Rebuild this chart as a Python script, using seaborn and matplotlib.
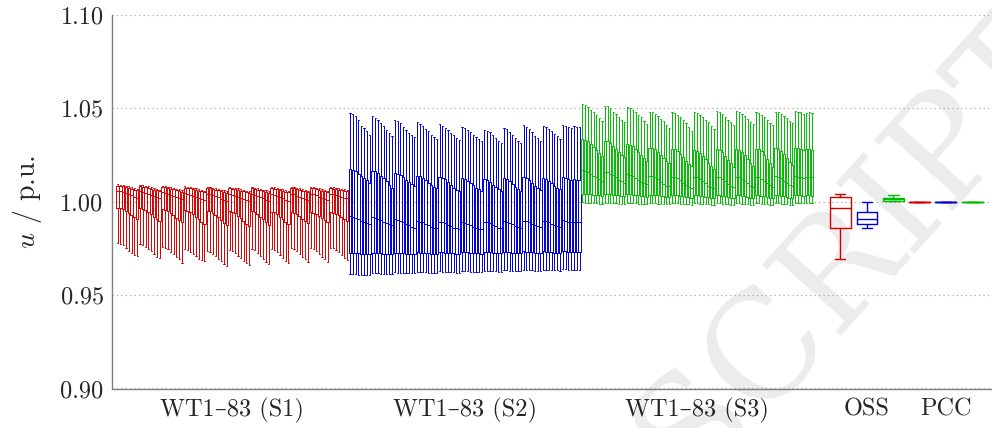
import matplotlib
matplotlib.use("Agg")
import matplotlib.pyplot as plt
import seaborn as sns
import numpy as np
import pandas as pd

# ---- data (p.u.) ----
cases = ["S1", "S2", "S3"]
colors = {"S1": "#d40000", "S2": "#0000d4", "S3": "#00bb00"}

# WT1-83, scenario S1
s1_hi = [1.0094, 1.0092, 1.0089, 1.0086, 1.0082, 1.0078, 1.0073, 1.0069,
         1.0090, 1.0088, 1.0085, 1.0082, 1.0078, 1.0073, 1.0069, 1.0065,
         1.0086, 1.0084, 1.0081, 1.0078, 1.0074, 1.0070, 1.0066, 1.0062,
         1.0083, 1.0081, 1.0078, 1.0075, 1.0071, 1.0067, 1.0063, 1.0059,
         1.0080, 1.0078, 1.0076, 1.0073, 1.0069, 1.0065, 1.0061, 1.0057,
         1.0078, 1.0076, 1.0074, 1.0071, 1.0067, 1.0063, 1.0059, 1.0055,
         1.0078, 1.0076, 1.0073, 1.0069, 1.0065, 1.0061, 1.0057,
         1.0079, 1.0077, 1.0074, 1.0070, 1.0066, 1.0062, 1.0058,
         1.0080, 1.0078, 1.0075, 1.0071, 1.0067, 1.0063, 1.0059,
         1.0080, 1.0078, 1.0075, 1.0072, 1.0068, 1.0064, 1.0060,
         1.0079, 1.0077, 1.0075, 1.0072, 1.0069, 1.0066, 1.0063]
s1_q3 = [1.0087, 1.0085, 1.0082, 1.0078, 1.0074, 1.0070, 1.0065, 1.0061,
         1.0083, 1.0081, 1.0078, 1.0074, 1.0070, 1.0065, 1.0061, 1.0057,
         1.0079, 1.0077, 1.0074, 1.0070, 1.0066, 1.0062, 1.0058, 1.0054,
         1.0076, 1.0074, 1.0071, 1.0067, 1.0063, 1.0059, 1.0055, 1.0051,
         1.0073, 1.0071, 1.0068, 1.0065, 1.0061, 1.0057, 1.0053, 1.0049,
         1.0071, 1.0069, 1.0066, 1.0063, 1.0059, 1.0055, 1.0051, 1.0047,
         1.0071, 1.0069, 1.0065, 1.0061, 1.0057, 1.0053, 1.0049,
         1.0072, 1.0070, 1.0066, 1.0062, 1.0058, 1.0054, 1.0050,
         1.0073, 1.0071, 1.0067, 1.0063, 1.0059, 1.0055, 1.0051,
         1.0073, 1.0071, 1.0068, 1.0064, 1.0060, 1.0056, 1.0052,
         1.0072, 1.0070, 1.0068, 1.0065, 1.0062, 1.0059, 1.0056]
s1_med = [1.0060, 1.0056, 1.0051, 1.0046, 1.0040, 1.0034, 1.0028, 1.0022,
          1.0055, 1.0051, 1.0046, 1.0041, 1.0035, 1.0029, 1.0023, 1.0018,
          1.0050, 1.0047, 1.0042, 1.0036, 1.0030, 1.0024, 1.0018, 1.0013,
          1.0046, 1.0043, 1.0038, 1.0032, 1.0026, 1.0020, 1.0014, 1.0009,
          1.0043, 1.0040, 1.0035, 1.0029, 1.0023, 1.0017, 1.0011, 1.0006,
          1.0041, 1.0038, 1.0033, 1.0027, 1.0021, 1.0014, 1.0008, 1.0003,
          1.0040, 1.0037, 1.0031, 1.0025, 1.0018, 1.0011, 1.0005,
          1.0041, 1.0038, 1.0032, 1.0026, 1.0019, 1.0012, 1.0006,
          1.0042, 1.0039, 1.0033, 1.0027, 1.0020, 1.0013, 1.0007,
          1.0042, 1.0039, 1.0034, 1.0028, 1.0021, 1.0015, 1.0009,
          1.0042, 1.0040, 1.0037, 1.0032, 1.0027, 1.0022, 1.0018]
s1_q1 = [0.9969, 0.9966, 0.9960, 0.9951, 0.9940, 0.9928, 0.9916, 0.9906,
         0.9965, 0.9962, 0.9955, 0.9945, 0.9933, 0.9920, 0.9908, 0.9897,
         0.9960, 0.9957, 0.9950, 0.9940, 0.9927, 0.9913, 0.9900, 0.9890,
         0.9955, 0.9952, 0.9945, 0.9934, 0.9920, 0.9906, 0.9893, 0.9882,
         0.9952, 0.9949, 0.9941, 0.9930, 0.9916, 0.9901, 0.9888, 0.9875,
         0.9950, 0.9946, 0.9938, 0.9926, 0.9911, 0.9896, 0.9882, 0.9870,
         0.9948, 0.9944, 0.9935, 0.9921, 0.9906, 0.9891, 0.9878,
         0.9947, 0.9943, 0.9934, 0.9921, 0.9907, 0.9893, 0.9881,
         0.9946, 0.9942, 0.9934, 0.9922, 0.9909, 0.9896, 0.9885,
         0.9945, 0.9942, 0.9934, 0.9923, 0.9911, 0.9900, 0.9890,
         0.9944, 0.9942, 0.9937, 0.9929, 0.9919, 0.9908, 0.9897]
s1_lo = [0.9781, 0.9776, 0.9767, 0.9754, 0.9736, 0.9728, 0.9715, 0.9710,
         0.9773, 0.9768, 0.9760, 0.9746, 0.9736, 0.9720, 0.9706, 0.9700,
         0.9758, 0.9752, 0.9745, 0.9730, 0.9720, 0.9705, 0.9692, 0.9674,
         0.9745, 0.9740, 0.9732, 0.9720, 0.9708, 0.9695, 0.9688, 0.9683,
         0.9736, 0.9731, 0.9722, 0.9709, 0.9695, 0.9681, 0.9668, 0.9656,
         0.9740, 0.9735, 0.9726, 0.9712, 0.9698, 0.9684, 0.9671, 0.9660,
         0.9745, 0.9739, 0.9727, 0.9711, 0.9694, 0.9678, 0.9665,
         0.9748, 0.9742, 0.9731, 0.9716, 0.9700, 0.9685, 0.9672,
         0.9752, 0.9746, 0.9735, 0.9721, 0.9706, 0.9692, 0.9680,
         0.9750, 0.9745, 0.9735, 0.9721, 0.9706, 0.9691, 0.9678,
         0.9755, 0.9750, 0.9741, 0.9729, 0.9715, 0.9701, 0.9690]

# WT1-83, scenario S2
s2_hi = [1.0475, 1.0471, 1.0457, 1.0439, 1.0408, 1.0396, 1.0378, 1.0360,
         1.0457, 1.0449, 1.0439, 1.0421, 1.0403, 1.0385, 1.0367, 1.0353,
         1.0439, 1.0432, 1.0421, 1.0400, 1.0385, 1.0370, 1.0357, 1.0345,
         1.0427, 1.0418, 1.0403, 1.0390, 1.0378, 1.0360, 1.0345, 1.0335,
         1.0415, 1.0408, 1.0396, 1.0382, 1.0368, 1.0355, 1.0340, 1.0330,
         1.0400, 1.0394, 1.0385, 1.0371, 1.0358, 1.0345, 1.0335, 1.0325,
         1.0385, 1.0380, 1.0371, 1.0358, 1.0340, 1.0326, 1.0312,
         1.0394, 1.0389, 1.0376, 1.0358, 1.0340, 1.0326, 1.0317,
         1.0410, 1.0401, 1.0389, 1.0371, 1.0353, 1.0340, 1.0325,
         1.0405, 1.0400, 1.0390, 1.0378, 1.0362, 1.0350, 1.0338,
         1.0412, 1.0408, 1.0400, 1.0395, 1.0403, 1.0400, 1.0398]
s2_q3 = [1.0174, 1.0172, 1.0165, 1.0150, 1.0140, 1.0128, 1.0115, 1.0103,
         1.0165, 1.0162, 1.0155, 1.0140, 1.0125, 1.0110, 1.0092, 1.0076,
         1.0153, 1.0150, 1.0142, 1.0130, 1.0118, 1.0105, 1.0095, 1.0085,
         1.0139, 1.0136, 1.0128, 1.0115, 1.0100, 1.0088, 1.0080, 1.0072,
         1.0131, 1.0128, 1.0120, 1.0105, 1.0090, 1.0075, 1.0065, 1.0058,
         1.0125, 1.0120, 1.0112, 1.0100, 1.0088, 1.0076, 1.0066, 1.0060,
         1.0120, 1.0115, 1.0105, 1.0092, 1.0078, 1.0066, 1.0058,
         1.0125, 1.0120, 1.0110, 1.0095, 1.0080, 1.0068, 1.0060,
         1.0130, 1.0125, 1.0115, 1.0100, 1.0085, 1.0072, 1.0062,
         1.0128, 1.0123, 1.0113, 1.0100, 1.0087, 1.0075, 1.0066,
         1.0132, 1.0128, 1.0122, 1.0115, 1.0120, 1.0118, 1.0115]
s2_med = [0.9924, 0.9920, 0.9914, 0.9905, 0.9897, 0.9890, 0.9884, 0.9879,
          0.9917, 0.9914, 0.9908, 0.9900, 0.9892, 0.9885, 0.9879, 0.9874,
          0.9906, 0.9903, 0.9897, 0.9889, 0.9880, 0.9873, 0.9867, 0.9862,
          0.9897, 0.9894, 0.9889, 0.9881, 0.9873, 0.9866, 0.9861, 0.9857,
          0.9892, 0.9889, 0.9884, 0.9876, 0.9868, 0.9862, 0.9857, 0.9853,
          0.9890, 0.9887, 0.9882, 0.9875, 0.9867, 0.9861, 0.9856, 0.9852,
          0.9893, 0.9890, 0.9884, 0.9876, 0.9868, 0.9862, 0.9857,
          0.9896, 0.9893, 0.9887, 0.9879, 0.9871, 0.9865, 0.9860,
          0.9899, 0.9896, 0.9890, 0.9882, 0.9874, 0.9868, 0.9863,
          0.9898, 0.9895, 0.9889, 0.9881, 0.9874, 0.9868, 0.9864,
          0.9900, 0.9898, 0.9894, 0.9890, 0.9892, 0.9891, 0.9890]
s2_q1 = [0.9728, 0.9727, 0.9726, 0.9724, 0.9722, 0.9721, 0.9720, 0.9719,
         0.9727, 0.9726, 0.9725, 0.9723, 0.9721, 0.9720, 0.9719, 0.9718,
         0.9727, 0.9726, 0.9725, 0.9723, 0.9722, 0.9720, 0.9719, 0.9719,
         0.9729, 0.9728, 0.9727, 0.9725, 0.9723, 0.9722, 0.9721, 0.9720,
         0.9730, 0.9729, 0.9728, 0.9726, 0.9724, 0.9723, 0.9722, 0.9721,
         0.9731, 0.9730, 0.9729, 0.9727, 0.9725, 0.9724, 0.9723, 0.9722,
         0.9732, 0.9731, 0.9729, 0.9727, 0.9725, 0.9724, 0.9723,
         0.9733, 0.9732, 0.9730, 0.9728, 0.9726, 0.9725, 0.9724,
         0.9734, 0.9733, 0.9731, 0.9729, 0.9727, 0.9726, 0.9725,
         0.9734, 0.9733, 0.9731, 0.9729, 0.9727, 0.9726, 0.9725,
         0.9735, 0.9734, 0.9733, 0.9732, 0.9733, 0.9733, 0.9733]
s2_lo = [0.9612, 0.9612, 0.9611, 0.9610, 0.9609, 0.9608, 0.9607, 0.9607,
         0.9618, 0.9617, 0.9616, 0.9615, 0.9614, 0.9613, 0.9612, 0.9612,
         0.9622, 0.9621, 0.9620, 0.9619, 0.9618, 0.9617, 0.9616, 0.9616,
         0.9625, 0.9624, 0.9623, 0.9622, 0.9621, 0.9620, 0.9619, 0.9619,
         0.9627, 0.9626, 0.9625, 0.9624, 0.9623, 0.9622, 0.9621, 0.9621,
         0.9629, 0.9628, 0.9627, 0.9626, 0.9625, 0.9624, 0.9623, 0.9623,
         0.9631, 0.9630, 0.9629, 0.9628, 0.9627, 0.9626, 0.9625,
         0.9633, 0.9632, 0.9631, 0.9630, 0.9629, 0.9628, 0.9627,
         0.9635, 0.9634, 0.9633, 0.9632, 0.9631, 0.9630, 0.9629,
         0.9637, 0.9636, 0.9635, 0.9634, 0.9633, 0.9632, 0.9631,
         0.9639, 0.9638, 0.9637, 0.9637, 0.9637, 0.9636, 0.9636]

# WT1-83, scenario S3
s3_hi = [1.0523, 1.0519, 1.0510, 1.0492, 1.0478, 1.0465, 1.0451, 1.0435,
         1.0514, 1.0512, 1.0501, 1.0483, 1.0469, 1.0455, 1.0440, 1.0425,
         1.0505, 1.0500, 1.0490, 1.0478, 1.0465, 1.0452, 1.0430, 1.0415,
         1.0480, 1.0478, 1.0470, 1.0458, 1.0445, 1.0430, 1.0410, 1.0395,
         1.0478, 1.0474, 1.0465, 1.0452, 1.0438, 1.0420, 1.0398, 1.0380,
         1.0480, 1.0475, 1.0466, 1.0453, 1.0440, 1.0425, 1.0405, 1.0390,
         1.0485, 1.0480, 1.0470, 1.0455, 1.0440, 1.0425, 1.0410,
         1.0488, 1.0482, 1.0472, 1.0458, 1.0442, 1.0428, 1.0415,
         1.0478, 1.0475, 1.0466, 1.0452, 1.0438, 1.0424, 1.0412,
         1.0480, 1.0478, 1.0470, 1.0458, 1.0446, 1.0432, 1.0420,
         1.0485, 1.0482, 1.0478, 1.0470, 1.0475, 1.0478, 1.0475]
s3_q3 = [1.0335, 1.0333, 1.0325, 1.0310, 1.0295, 1.0278, 1.0262, 1.0246,
         1.0326, 1.0324, 1.0315, 1.0300, 1.0285, 1.0268, 1.0252, 1.0237,
         1.0308, 1.0305, 1.0297, 1.0283, 1.0268, 1.0252, 1.0235, 1.0219,
         1.0290, 1.0288, 1.0280, 1.0266, 1.0250, 1.0234, 1.0218, 1.0205,
         1.0282, 1.0280, 1.0270, 1.0254, 1.0237, 1.0220, 1.0203, 1.0190,
         1.0275, 1.0272, 1.0262, 1.0245, 1.0227, 1.0208, 1.0190, 1.0178,
         1.0280, 1.0276, 1.0265, 1.0247, 1.0226, 1.0205, 1.0188,
         1.0282, 1.0278, 1.0267, 1.0249, 1.0228, 1.0207, 1.0190,
         1.0285, 1.0281, 1.0270, 1.0251, 1.0229, 1.0206, 1.0185,
         1.0288, 1.0284, 1.0273, 1.0255, 1.0234, 1.0213, 1.0195,
         1.0290, 1.0288, 1.0284, 1.0278, 1.0280, 1.0282, 1.0278]
s3_med = [1.0169, 1.0167, 1.0160, 1.0150, 1.0140, 1.0130, 1.0120, 1.0112,
          1.0160, 1.0158, 1.0151, 1.0141, 1.0130, 1.0119, 1.0109, 1.0100,
          1.0147, 1.0145, 1.0138, 1.0128, 1.0117, 1.0106, 1.0099, 1.0094,
          1.0139, 1.0137, 1.0130, 1.0120, 1.0108, 1.0096, 1.0087, 1.0082,
          1.0135, 1.0133, 1.0126, 1.0115, 1.0102, 1.0090, 1.0081, 1.0076,
          1.0132, 1.0130, 1.0122, 1.0111, 1.0098, 1.0087, 1.0079, 1.0074,
          1.0133, 1.0130, 1.0122, 1.0110, 1.0097, 1.0086, 1.0078,
          1.0134, 1.0131, 1.0123, 1.0111, 1.0098, 1.0087, 1.0080,
          1.0135, 1.0132, 1.0124, 1.0112, 1.0099, 1.0088, 1.0081,
          1.0136, 1.0133, 1.0125, 1.0113, 1.0100, 1.0090, 1.0083,
          1.0137, 1.0135, 1.0132, 1.0128, 1.0130, 1.0131, 1.0130]
s3_q1 = [1.0044, 1.0043, 1.0042, 1.0040, 1.0038, 1.0036, 1.0034, 1.0032,
         1.0042, 1.0041, 1.0040, 1.0038, 1.0036, 1.0034, 1.0032, 1.0030,
         1.0040, 1.0039, 1.0038, 1.0036, 1.0034, 1.0032, 1.0030, 1.0028,
         1.0038, 1.0037, 1.0036, 1.0034, 1.0032, 1.0029, 1.0027, 1.0025,
         1.0036, 1.0035, 1.0034, 1.0032, 1.0029, 1.0026, 1.0024, 1.0022,
         1.0035, 1.0034, 1.0033, 1.0031, 1.0028, 1.0025, 1.0022, 1.0020,
         1.0035, 1.0034, 1.0032, 1.0029, 1.0026, 1.0022, 1.0019,
         1.0035, 1.0034, 1.0032, 1.0029, 1.0026, 1.0022, 1.0019,
         1.0035, 1.0034, 1.0032, 1.0029, 1.0025, 1.0021, 1.0018,
         1.0035, 1.0034, 1.0032, 1.0029, 1.0026, 1.0022, 1.0019,
         1.0036, 1.0035, 1.0034, 1.0033, 1.0034, 1.0034, 1.0033]
s3_lo = [0.9996, 0.9995, 0.9994, 0.9993, 0.9992, 0.9991, 0.9990, 0.9989,
         0.9995, 0.9994, 0.9993, 0.9992, 0.9991, 0.9990, 0.9989, 0.9988,
         0.9994, 0.9993, 0.9992, 0.9991, 0.9990, 0.9989, 0.9988, 0.9987,
         0.9993, 0.9992, 0.9991, 0.9990, 0.9989, 0.9988, 0.9987, 0.9986,
         0.9993, 0.9992, 0.9991, 0.9990, 0.9988, 0.9987, 0.9986, 0.9985,
         0.9992, 0.9991, 0.9990, 0.9989, 0.9988, 0.9986, 0.9985, 0.9984,
         0.9992, 0.9991, 0.9990, 0.9988, 0.9987, 0.9985, 0.9984,
         0.9992, 0.9991, 0.9990, 0.9988, 0.9987, 0.9985, 0.9984,
         0.9992, 0.9991, 0.9990, 0.9988, 0.9986, 0.9985, 0.9984,
         0.9992, 0.9991, 0.9990, 0.9988, 0.9987, 0.9985, 0.9984,
         0.9993, 0.9992, 0.9992, 0.9991, 0.9991, 0.9991, 0.9991]

# OSS and PCC, one box per scenario (S1, S2, S3)
oss_lo = [0.9695, 0.9862, 1.0003]
oss_q1 = [0.9862, 0.9879, 1.0006]
oss_med = [0.9969, 0.9906, 1.0013]
oss_q3 = [1.0028, 0.9947, 1.0022]
oss_hi = [1.0040, 0.9997, 1.0038]

pcc_lo = [1.0000, 1.0000, 1.0000]
pcc_q1 = [1.0000, 1.0000, 1.0000]
pcc_med = [1.0000, 1.0000, 1.0000]
pcc_q3 = [1.0000, 1.0000, 1.0000]
pcc_hi = [1.0000, 1.0000, 1.0000]

tick_labels = ["WT1\u201383 (S1)", "WT1\u201383 (S2)", "WT1\u201383 (S3)", "OSS", "PCC"]
y_ticks = [0.90, 0.95, 1.00, 1.05, 1.10]


def long_table(positions, case, lo, q1, med, q3, hi):
    # five points per box -> quartiles land exactly on q1 / med / q3
    rows = []
    for p, vals in zip(positions, zip(lo, q1, med, q3, hi)):
        for v in vals:
            rows.append((p, case, v))
    return rows


n_wt = len(s1_hi)
wt_rows = []
wt_rows += long_table(np.arange(1, n_wt + 1), "S1", s1_lo, s1_q1, s1_med, s1_q3, s1_hi)
wt_rows += long_table(np.arange(1, n_wt + 1) + n_wt, "S2", s2_lo, s2_q1, s2_med, s2_q3, s2_hi)
wt_rows += long_table(np.arange(1, n_wt + 1) + 2 * n_wt, "S3", s3_lo, s3_q1, s3_med, s3_q3, s3_hi)
wt_df = pd.DataFrame(wt_rows, columns=["pos", "case", "u"])

oss_c, pcc_c, step = 268.6, 296.8, 9.5
bus_rows = []
for i, c in enumerate(cases):
    bus_rows += long_table([oss_c + (i - 1) * step], c, [oss_lo[i]], [oss_q1[i]],
                           [oss_med[i]], [oss_q3[i]], [oss_hi[i]])
    bus_rows += long_table([pcc_c + (i - 1) * step], c, [pcc_lo[i]], [pcc_q1[i]],
                           [pcc_med[i]], [pcc_q3[i]], [pcc_hi[i]])
bus_df = pd.DataFrame(bus_rows, columns=["pos", "case", "u"])

sns.set_style("white")
plt.rcParams["font.family"] = ["cmr10", "DejaVu Serif"]
plt.rcParams["mathtext.fontset"] = "cm"
plt.rcParams["axes.formatter.use_mathtext"] = True

fig = plt.figure(figsize=(9.92, 4.28), dpi=100)
ax = fig.add_axes([112 / 992, 1 - 388.5 / 428, 1 - 112 / 992, 373.5 / 428])
ax.set_facecolor("none")

# faint watermark behind the axes
fig.text(0.86, 0.42, "SCRIPT", rotation=48, fontsize=105, color="#ececec",
         ha="center", va="center", zorder=-5, family="DejaVu Serif")

common = dict(x="pos", y="u", hue="case", palette=colors, native_scale=True,
              fill=False, whis=(0, 100), legend=False, ax=ax, dodge=False)
sns.boxplot(data=wt_df, width=0.8, linewidth=0.7, **common)
sns.boxplot(data=bus_df, width=0.8, linewidth=1.0, **common)

ax.set_xlim(-1.0, 313.3)
ax.set_ylim(0.90, 1.10)
ax.set_yticks(y_ticks)
ax.set_yticklabels([f"{t:.2f}" for t in y_ticks])
ax.set_xticks([42, 125, 208, oss_c, pcc_c])
ax.set_xticklabels(tick_labels)
ax.set_xlabel("")
ax.set_ylabel("$u$ / p.u.", fontsize=20, labelpad=12)

ax.yaxis.grid(True, linestyle=(0, (1, 3)), color="#a0a0a0", linewidth=0.8)
ax.set_axisbelow(True)
for side in ["top", "right"]:
    ax.spines[side].set_visible(False)
for side in ["left", "bottom"]:
    ax.spines[side].set_color("#808080")
    ax.spines[side].set_linewidth(1.0)
ax.tick_params(axis="both", direction="in", color="#808080", labelsize=17.5)
ax.tick_params(axis="x", length=7, pad=7)
ax.tick_params(axis="y", length=4, pad=6)

fig.savefig("out.png", dpi=100)
